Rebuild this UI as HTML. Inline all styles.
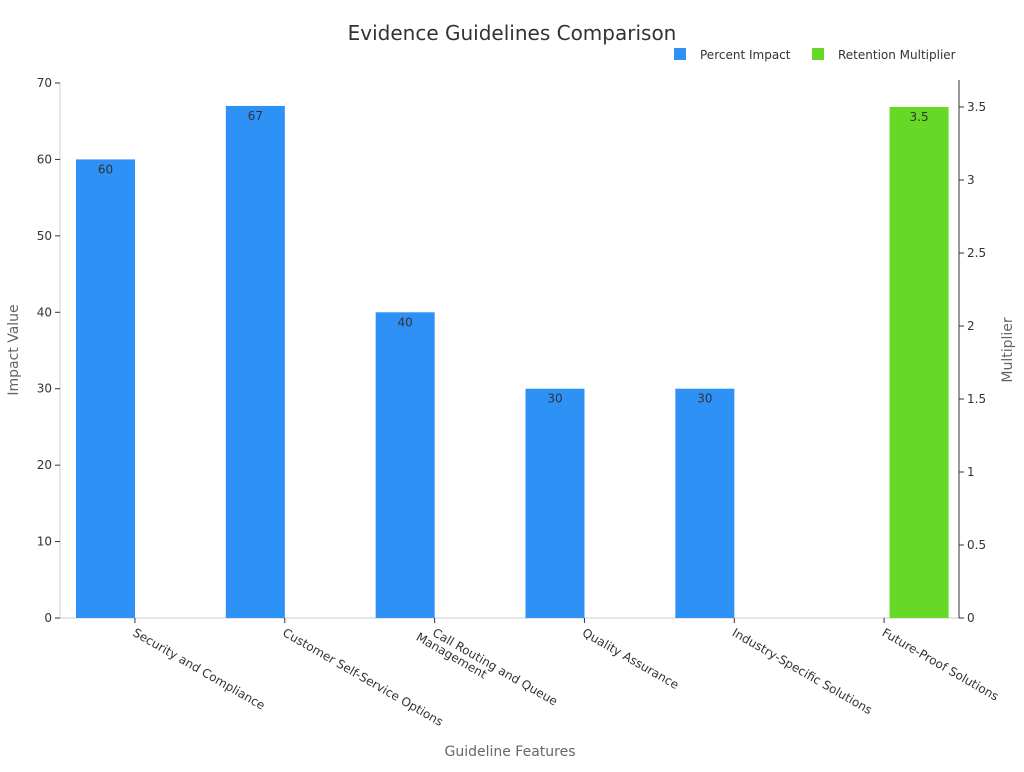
<!DOCTYPE html>
<html><head><meta charset="utf-8"><style>
body{margin:0;background:#fff;font-family:"DejaVu Sans","Liberation Sans",sans-serif;}
svg text{font-family:"DejaVu Sans","Liberation Sans",sans-serif;}
</style></head><body>
<svg id="chart" width="1024" height="768" xmlns="http://www.w3.org/2000/svg">
<text x="512" y="40" text-anchor="middle" font-size="20" fill="#333">Evidence Guidelines Comparison</text>
<g>
<rect x="674" y="48" width="12" height="12" fill="#2d91f5"/>
<text x="700" y="59" font-size="12" fill="#333">Percent Impact</text>
<rect x="812" y="48" width="12" height="12" fill="#66d926"/>
<text x="838" y="59" font-size="12" fill="#333">Retention Multiplier</text>
</g>
<text transform="translate(18,350) rotate(-90)" text-anchor="middle" font-size="14" fill="#666">Impact Value</text>
<text transform="translate(1012,350) rotate(-90)" text-anchor="middle" font-size="14" fill="#666">Multiplier</text>
<text x="510" y="756" text-anchor="middle" font-size="14" fill="#666">Guideline Features</text>
<g id="plot"></g>
</svg>
<script>
const categories=["Security and Compliance","Customer Self-Service Options","Call Routing and Queue\nManagement","Quality Assurance","Industry-Specific Solutions","Future-Proof Solutions"];
const percentImpact=[60,67,40,30,30,null];
const retentionMultiplier=[null,null,null,null,null,3.5];
const leftTicks=[0,10,20,30,40,50,60,70];
const rightTicks=[0,0.5,1,1.5,2,2.5,3,3.5];
const rightTickLabels=["0","0.5","1","1.5","2","2.5","3","3.5"];

const NS="http://www.w3.org/2000/svg";
const g=document.getElementById('plot');
const X0=60,X1=959,Y0=618,YT=83;
const band=(X1-X0)/categories.length;
const yL=v=>Y0-(v/70)*(Y0-YT);
const yR=v=>Y0-(v/3.5)*(Y0-107);
function mk(t,a,p){const e=document.createElementNS(NS,t);for(const k in a)e.setAttribute(k,a[k]);(p||g).appendChild(e);return e;}

// axes
let e=mk('line',{x1:X0,y1:Y0,x2:X1,y2:Y0,stroke:'#ccc'});


e=mk('line',{x1:X0,y1:YT,x2:X0,y2:Y0,stroke:'#ccc'});


e=mk('line',{x1:X1,y1:80,x2:X1,y2:Y0,stroke:'#333'});



leftTicks.forEach(v=>{
 const y=yL(v);
 let t=mk('line',{x1:X0-5,y1:y,x2:X0,y2:y,stroke:'#333'});
 
 
 t=mk('text',{x:X0-8,y:y+4,'text-anchor':'end','font-size':12,fill:'#333'});
 t.textContent=v;
 
 
});
rightTicks.forEach((v,i)=>{
 const y=yR(v);
 let t=mk('line',{x1:X1,y1:y,x2:X1+5,y2:y,stroke:'#333'});
 
 
 t=mk('text',{x:X1+8,y:y+4,'font-size':12,fill:'#333'});
 t.textContent=rightTickLabels[i];
 
 
});

categories.forEach((c,i)=>{
 const cx=X0+band*(i+0.5);
 let t=mk('line',{x1:cx,y1:Y0,x2:cx,y2:Y0+5,stroke:'#333'});
 
 
 t=mk('text',{transform:`translate(${cx-3},${Y0+17}) rotate(30)`,'font-size':12,fill:'#333'});
 
 
 const lines=c.split('\n');
 lines.forEach((ln,j)=>{
  const s=mk('tspan',{x:0,dy:j?14:0},t);
  if(lines.length>1) s.setAttribute('x',-(lines.length-1-j)*0);
  s.textContent=ln;
 });
 if(lines.length>1){t.setAttribute('transform',`translate(${cx-3},${Y0+17}) rotate(30)`);t.childNodes[1].setAttribute('x',-12);t.childNodes[1].setAttribute('dy',12);}
 const bw=59;
 if(percentImpact[i]!=null){
  const v=percentImpact[i],y=yL(v);
  let b=mk('rect',{x:X0+band*i+16,y:y,width:bw,height:Y0-y,fill:'#2d91f5'});
  
  
  let l=mk('text',{x:X0+band*i+16+bw/2,y:y+14,'text-anchor':'middle','font-size':12,fill:'#333'});
  l.textContent=v;
  
  
 }
 if(retentionMultiplier[i]!=null){
  const v=retentionMultiplier[i],y=yR(v);
  const bx=percentImpact[i]==null?X0+band*i+(band-bw)/2+35:X0+band*i+16+bw;
  let b=mk('rect',{x:bx,y:y,width:bw,height:Y0-y,fill:'#66d926'});
  
  
  let l=mk('text',{x:bx+bw/2,y:y+14,'text-anchor':'middle','font-size':12,fill:'#333'});
  l.textContent=v;
  
  
 }
});
</script>
</body></html>
